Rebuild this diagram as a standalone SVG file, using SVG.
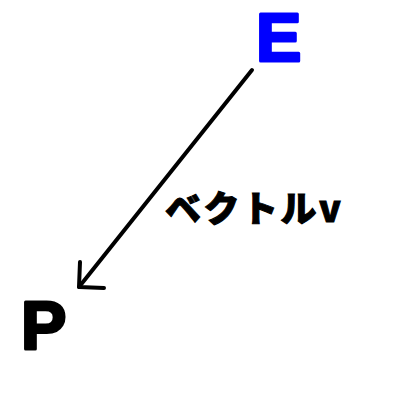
<svg xmlns="http://www.w3.org/2000/svg" width="400" height="400" viewBox="0 0 400 400">
<style>
.lbl{font-family:"Liberation Sans","Noto Sans CJK JP",sans-serif;font-weight:bold;stroke-width:3;stroke-linejoin:round}
.conn{stroke:#000;stroke-width:4;fill:none;stroke-linecap:round;stroke-linejoin:round}
</style>
<g id="E"><text class="lbl" x="256" y="61" font-size="68" fill="#0000ff" stroke="#0000ff">E</text></g>
<g id="P"><text class="lbl" x="21" y="349" font-size="68" fill="#000" stroke="#000">P</text></g>
<g id="connectors">
<line class="conn" x1="252" y1="70" x2="79" y2="287"/>
<polyline class="conn" points="80,262 79,287 104,288"/>
<text x="165" y="222" font-size="36" letter-spacing="2.5" font-family="'Noto Sans CJK JP',sans-serif" font-weight="900" fill="#000" stroke="#000" stroke-width="1">ベクトルv</text>
</g>
</svg>
